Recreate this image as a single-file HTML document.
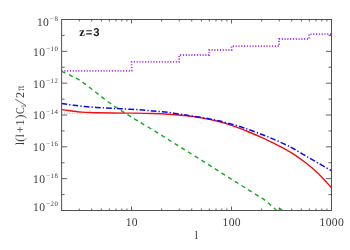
<!DOCTYPE html>
<html><head><meta charset="utf-8"><style>
html,body{margin:0;padding:0;background:#fff;}
body{width:350px;height:250px;overflow:hidden;}
svg{display:block;will-change:transform;text-rendering:geometricPrecision;}
text{font-family:"Liberation Serif",serif;fill:#3c3c3c;}
.tl{font-size:11.6px;letter-spacing:0.35px;}
.sup{font-size:6.8px;letter-spacing:0.5px;}
.zb{font-family:"Liberation Sans",sans-serif;font-weight:bold;font-size:11.3px;fill:#222;}
</style></head><body>
<svg width="350" height="250" viewBox="0 0 350 250">
<rect width="350" height="250" fill="#fff"/>
<clipPath id="c"><rect x="61.60" y="19.50" width="269.90" height="191.00"/></clipPath>
<g clip-path="url(#c)" fill="none">
<path d="M61.50 70.80 L131.60 70.80 L131.60 61.90 L179.20 61.90 L179.20 55.00 L209.20 55.00 L209.20 50.00 L231.60 50.00 L231.60 46.10 L279.00 46.10 L279.00 39.00 L309.20 39.00 L309.20 34.10 L331.50 34.10" stroke="#a020f0" stroke-opacity="0.88" stroke-width="1.8" stroke-dasharray="1.15 1.65"/>
<path d="M61.5 113.3 H84" stroke="#cc5555" stroke-width="0.6" stroke-dasharray="1 1.6"/>
<path d="M61.60 71.40 C63.13 72.10 68.07 74.30 70.80 75.60 C73.53 76.90 75.73 77.87 78.00 79.20 C80.27 80.53 82.30 82.10 84.40 83.60 C86.50 85.10 88.50 86.60 90.60 88.20 C92.70 89.80 94.93 91.58 97.00 93.20 C99.07 94.82 100.93 96.32 103.00 97.90 C105.07 99.48 107.23 101.13 109.40 102.70 C111.57 104.27 113.73 105.78 116.00 107.30 C118.27 108.82 120.80 110.40 123.00 111.80 C125.20 113.20 127.17 114.45 129.20 115.70 C131.23 116.95 133.02 117.98 135.20 119.30 C137.38 120.62 138.83 121.52 142.30 123.60 C145.77 125.68 151.52 129.05 156.00 131.80 C160.48 134.55 164.78 137.33 169.20 140.10 C173.62 142.87 178.08 145.65 182.50 148.40 C186.92 151.15 191.17 153.77 195.70 156.60 C200.23 159.43 205.17 162.53 209.70 165.40 C214.23 168.27 218.50 171.02 222.90 173.80 C227.30 176.58 231.70 179.33 236.10 182.10 C240.50 184.87 244.98 187.72 249.30 190.40 C253.62 193.08 259.38 196.55 262.00 198.20 C264.62 199.85 264.00 199.53 265.00 200.30 C266.00 201.07 267.00 201.95 268.00 202.80 C269.00 203.65 270.00 204.52 271.00 205.40 C272.00 206.28 273.00 207.17 274.00 208.10 C275.00 209.03 276.50 210.52 277.00 211.00" stroke="#10aa20" stroke-width="1.4" stroke-dasharray="4.2 3.7"/>
<path d="M279 207.9 L283 211" stroke="#10aa20" stroke-width="1.4"/>
<path d="M61.50 109.60 C62.58 109.75 65.92 110.23 68.00 110.50 C70.08 110.77 71.67 110.93 74.00 111.20 C76.33 111.47 79.33 111.88 82.00 112.10 C84.67 112.32 87.33 112.43 90.00 112.55 C92.67 112.67 94.13 112.72 98.00 112.80 C101.87 112.88 106.87 112.99 113.20 113.05 C119.53 113.11 129.53 113.07 136.00 113.15 C142.47 113.23 146.67 113.36 152.00 113.55 C157.33 113.74 162.67 113.97 168.00 114.30 C173.33 114.62 180.13 115.17 184.00 115.50 C187.87 115.83 188.03 115.87 191.20 116.30 C194.37 116.73 198.93 117.37 203.00 118.10 C207.07 118.83 211.77 119.78 215.60 120.70 C219.43 121.62 221.60 122.20 226.00 123.60 C230.40 125.00 238.00 127.62 242.00 129.10 C246.00 130.58 246.67 131.08 250.00 132.50 C253.33 133.92 258.00 135.78 262.00 137.60 C266.00 139.42 270.00 141.40 274.00 143.40 C278.00 145.40 282.67 147.77 286.00 149.60 C289.33 151.43 290.67 152.17 294.00 154.40 C297.33 156.63 302.40 160.23 306.00 163.00 C309.60 165.77 312.60 168.27 315.60 171.00 C318.60 173.73 321.33 176.58 324.00 179.40 C326.67 182.22 330.33 186.48 331.60 187.90" stroke="#f01010" stroke-width="1.4"/>
<path d="M61.50 103.50 C63.58 103.80 69.25 104.72 74.00 105.30 C78.75 105.88 84.60 106.55 90.00 107.00 C95.40 107.45 101.40 107.72 106.40 108.00 C111.40 108.28 115.07 108.43 120.00 108.70 C124.93 108.97 130.67 109.23 136.00 109.60 C141.33 109.97 146.67 110.43 152.00 110.90 C157.33 111.37 162.67 111.77 168.00 112.40 C173.33 113.03 180.13 114.12 184.00 114.70 C187.87 115.28 188.03 115.40 191.20 115.90 C194.37 116.40 198.93 116.98 203.00 117.70 C207.07 118.42 211.77 119.37 215.60 120.20 C219.43 121.03 221.60 121.53 226.00 122.70 C230.40 123.87 238.00 125.98 242.00 127.20 C246.00 128.42 246.67 128.78 250.00 130.00 C253.33 131.22 258.00 132.93 262.00 134.50 C266.00 136.07 270.00 137.68 274.00 139.40 C278.00 141.12 282.67 143.20 286.00 144.80 C289.33 146.40 290.67 147.13 294.00 149.00 C297.33 150.87 302.00 153.67 306.00 156.00 C310.00 158.33 313.73 160.52 318.00 163.00 C322.27 165.48 329.33 169.58 331.60 170.90" stroke="#0808ff" stroke-width="1.5" stroke-dasharray="5.7 2.1 1.3 2.1"/>
</g>
<path d="M79.21 19.50 v2.00 M79.21 210.50 v-2.00 M91.71 19.50 v2.00 M91.71 210.50 v-2.00 M101.40 19.50 v2.00 M101.40 210.50 v-2.00 M109.32 19.50 v2.00 M109.32 210.50 v-2.00 M116.01 19.50 v2.00 M116.01 210.50 v-2.00 M121.81 19.50 v2.00 M121.81 210.50 v-2.00 M126.92 19.50 v2.00 M126.92 210.50 v-2.00 M131.50 19.50 v4.00 M131.50 210.50 v-4.00 M161.60 19.50 v2.00 M161.60 210.50 v-2.00 M179.21 19.50 v2.00 M179.21 210.50 v-2.00 M191.71 19.50 v2.00 M191.71 210.50 v-2.00 M201.40 19.50 v2.00 M201.40 210.50 v-2.00 M209.32 19.50 v2.00 M209.32 210.50 v-2.00 M216.01 19.50 v2.00 M216.01 210.50 v-2.00 M221.81 19.50 v2.00 M221.81 210.50 v-2.00 M226.92 19.50 v2.00 M226.92 210.50 v-2.00 M231.50 19.50 v4.00 M231.50 210.50 v-4.00 M261.60 19.50 v2.00 M261.60 210.50 v-2.00 M279.21 19.50 v2.00 M279.21 210.50 v-2.00 M291.71 19.50 v2.00 M291.71 210.50 v-2.00 M301.40 19.50 v2.00 M301.40 210.50 v-2.00 M309.32 19.50 v2.00 M309.32 210.50 v-2.00 M316.01 19.50 v2.00 M316.01 210.50 v-2.00 M321.81 19.50 v2.00 M321.81 210.50 v-2.00 M326.92 19.50 v2.00 M326.92 210.50 v-2.00 M61.60 35.42 h3.00 M331.50 35.42 h-3.00 M61.60 51.33 h5.60 M331.50 51.33 h-5.60 M61.60 67.25 h3.00 M331.50 67.25 h-3.00 M61.60 83.17 h5.60 M331.50 83.17 h-5.60 M61.60 99.08 h3.00 M331.50 99.08 h-3.00 M61.60 115.00 h5.60 M331.50 115.00 h-5.60 M61.60 130.92 h3.00 M331.50 130.92 h-3.00 M61.60 146.83 h5.60 M331.50 146.83 h-5.60 M61.60 162.75 h3.00 M331.50 162.75 h-3.00 M61.60 178.67 h5.60 M331.50 178.67 h-5.60 M61.60 194.58 h3.00 M331.50 194.58 h-3.00" stroke="#505050" stroke-width="0.9" fill="none"/>
<rect x="61.60" y="19.50" width="269.90" height="191.00" fill="none" stroke="#505050" stroke-width="1"/>
<text x="58.3" y="26.40" text-anchor="end" class="tl">10<tspan dx="0.8" dy="-5" class="sup">−8</tspan></text>
<text x="58.3" y="55.73" text-anchor="end" class="tl">10<tspan dx="0.8" dy="-5" class="sup">−10</tspan></text>
<text x="58.3" y="87.57" text-anchor="end" class="tl">10<tspan dx="0.8" dy="-5" class="sup">−12</tspan></text>
<text x="58.3" y="119.40" text-anchor="end" class="tl">10<tspan dx="0.8" dy="-5" class="sup">−14</tspan></text>
<text x="58.3" y="151.23" text-anchor="end" class="tl">10<tspan dx="0.8" dy="-5" class="sup">−16</tspan></text>
<text x="58.3" y="183.07" text-anchor="end" class="tl">10<tspan dx="0.8" dy="-5" class="sup">−18</tspan></text>
<text x="58.3" y="210.90" text-anchor="end" class="tl">10<tspan dx="0.8" dy="-5" class="sup">−20</tspan></text>
<text x="131.80" y="226" text-anchor="middle" class="tl">10</text>
<text x="231.80" y="226" text-anchor="middle" class="tl">100</text>
<text x="331.80" y="226" text-anchor="middle" class="tl">1000</text>
<text x="196.5" y="238.8" text-anchor="middle" class="tl">l</text>
<text transform="translate(24 143.60) rotate(-90) scale(1.00 1)" text-anchor="middle" style="font-size:12.0px">l</text>
<text transform="translate(24 139.60) rotate(-90) scale(1.00 1)" text-anchor="middle" style="font-size:12.6px">(</text>
<text transform="translate(24 135.80) rotate(-90) scale(1.00 1)" text-anchor="middle" style="font-size:12.0px">l</text>
<text transform="translate(24 129.60) rotate(-90) scale(1.00 1)" text-anchor="middle" style="font-size:12.0px">+</text>
<text transform="translate(24 122.40) rotate(-90) scale(1.00 1)" text-anchor="middle" style="font-size:12.0px">1</text>
<text transform="translate(24 116.60) rotate(-90) scale(1.00 1)" text-anchor="middle" style="font-size:12.6px">)</text>
<text transform="translate(24 110.60) rotate(-90) scale(0.85 1)" text-anchor="middle" style="font-size:12.0px">C</text>
<text transform="translate(24 95.00) rotate(-90) scale(1.00 1)" text-anchor="middle" style="font-size:12.0px">2</text>
<text transform="translate(24 88.20) rotate(-90) scale(0.90 1)" text-anchor="middle" style="font-size:11.5px">π</text>
<text transform="translate(26.4 106) rotate(-90)" text-anchor="middle" style="font-size:7px">l</text>
<path d="M26 105.6 L15.2 99.2" stroke="#444" stroke-width="0.8" fill="none"/>
<text y="36.4" class="zb"><tspan x="79.3" style="font-family:'Liberation Serif',serif;font-size:12.6px">z</tspan><tspan x="85.7">=</tspan><tspan x="93.3">3</tspan></text>
</svg>
</body></html>
